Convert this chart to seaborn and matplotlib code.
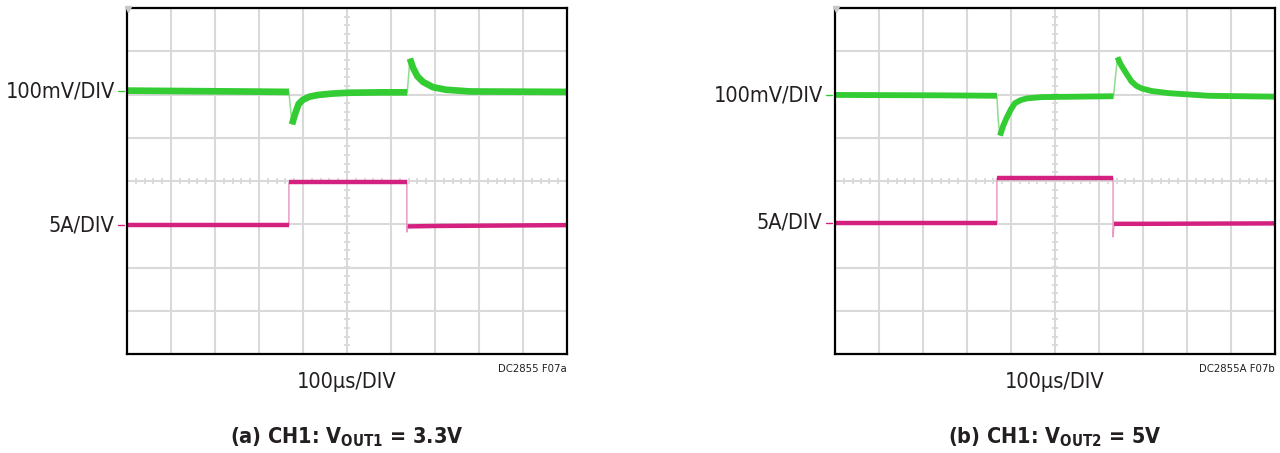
import numpy as np
import pandas as pd
import matplotlib
matplotlib.use("Agg")
import matplotlib.pyplot as plt
import matplotlib.transforms as mtransforms
from matplotlib import font_manager
import seaborn as sns

# ---- trace data (time and amplitude in scope divisions) ----
# panel (a): VOUT1 = 3.3V
vout_a_t = [-5.00, -2.50, -1.32, -1.25, -1.18, -1.10, -1.00, -0.85, -0.65, -0.35, 0.00, 0.80,
            1.37, 1.43, 1.50, 1.60, 1.73, 1.95, 2.25, 2.80, 5.00]
vout_a_v = [2.09, 2.07, 2.06, 1.31, 1.55, 1.78, 1.88, 1.95, 1.99, 2.02, 2.04, 2.05,
            2.05, 2.83, 2.62, 2.42, 2.29, 2.17, 2.11, 2.07, 2.06]
iout_a_t = [-5.00, -1.32, -1.32, 1.36, 1.36, 1.38, 2.00, 5.00]
iout_a_v = [-1.02, -1.02, -0.03, -0.03, -1.18, -1.05, -1.04, -1.02]

# panel (b): VOUT2 = 5V
vout_b_t = [-5.00, -2.50, -1.32, -1.29, -1.25, -1.18, -1.10, -1.00, -0.91, -0.78, -0.64, -0.30,
            0.50, 1.33, 1.42, 1.48, 1.55, 1.65, 1.74, 1.85, 1.97, 2.20, 2.60, 3.50, 5.00]
vout_b_v = [1.99, 1.98, 1.97, 1.40, 1.05, 1.27, 1.46, 1.66, 1.80, 1.87, 1.91, 1.94,
            1.95, 1.96, 2.86, 2.72, 2.60, 2.44, 2.30, 2.20, 2.14, 2.08, 2.03, 1.97, 1.95]
iout_b_t = [-5.00, -1.32, -1.32, 1.32, 1.32, 1.34, 2.00, 5.00]
iout_b_v = [-0.97, -0.97, 0.07, 0.07, -1.29, -0.99, -0.99, -0.98]

# ---- text ----
vert_labels = ["100mV/DIV", "5A/DIV"]
horiz_label = "100\u00b5s/DIV"
figure_ids = ["DC2855 F07a", "DC2855A F07b"]
captions = [r"(a) CH1: V$_{\mathbf{OUT1}}$ = 3.3V", r"(b) CH1: V$_{\mathbf{OUT2}}$ = 5V"]
vout_levels = [2.08, 1.98]      # channel reference markers
iout_levels = [-1.02, -0.97]

GREEN = "#33cc33"
GREEN_EDGE = "#8fdc8f"
MAGENTA = "#d4217f"
MAGENTA_EDGE = "#e89cc3"
GRID = "#d9d9d9"
TEXT = "#231f20"

sns.set_style("white")

# pick the narrowest sans face on the system for the scope-style lettering
stretch_rank = {"ultra-condensed": 0, "extra-condensed": 1, "condensed": 2,
                "semi-condensed": 3, "normal": 5}
face, face_stretch, best = "Roboto", "normal", 9
for f in font_manager.fontManager.ttflist:
    st = f.stretch if isinstance(f.stretch, str) else "normal"
    r = stretch_rank.get(st, 5)
    if "Narrow" in f.name or "Condensed" in f.name:
        r = min(r, 2)
    if r < best and f.weight in (400, "normal", "regular"):
        face, face_stretch, best = f.name, st, r

plt.rcParams["font.family"] = [face, "DejaVu Sans"]
plt.rcParams["font.stretch"] = face_stretch
plt.rcParams["mathtext.fontset"] = "custom"
plt.rcParams["mathtext.rm"] = f"{face}:stretch={face_stretch}"
plt.rcParams["mathtext.bf"] = f"{face}:weight=bold:stretch={face_stretch}"


def split_runs(t, v, max_slope=5.0):
    """Group consecutive slow segments; fast edges are left to the thin trace."""
    rows, run = [], 0
    open_run = False
    for i in range(len(t) - 1):
        dt = t[i + 1] - t[i]
        slope = np.inf if dt == 0 else abs(v[i + 1] - v[i]) / dt
        if slope < max_slope:
            if not open_run:
                run += 1
                rows.append((t[i], v[i], run))
                open_run = True
            rows.append((t[i + 1], v[i + 1], run))
        else:
            open_run = False
    return pd.DataFrame(rows, columns=["t", "v", "seg"])


def draw_trace(ax, t, v, color, edge_color, lw):
    sns.lineplot(x=t, y=v, sort=False, estimator=None, color=edge_color, lw=1.1,
                 ax=ax, legend=False)
    runs = split_runs(t, v)
    sns.lineplot(data=runs, x="t", y="v", units="seg", sort=False, estimator=None,
                 color=color, lw=lw, ax=ax, legend=False, solid_capstyle="butt")


def draw_graticule(ax):
    for x in range(-4, 5):
        ax.axvline(x, color=GRID, lw=1.5, zorder=0)
    for y in range(-3, 4):
        ax.axhline(y, color=GRID, lw=1.5, zorder=0)
    minor_x = np.arange(-5, 5.01, 0.2)
    minor_y = np.arange(-4, 4.01, 0.2)
    ax.vlines(minor_x, -0.07, 0.07, color=GRID, lw=1.3, zorder=0)
    ax.hlines(minor_y, -0.07, 0.07, color=GRID, lw=1.3, zorder=0)


fig = plt.figure(figsize=(12.8, 4.53), dpi=100)
renderer = fig.canvas.get_renderer()


def fitted_size(s, width_px, max_size, **kw):
    """Largest font size (up to max_size) at which a string spans width_px."""
    probe = fig.text(0, 0, s, fontsize=max_size, **kw)
    w = probe.get_window_extent(renderer).width
    probe.remove()
    return max_size if w <= width_px else max_size * width_px / w


label_size = min(18, 1.06 * fitted_size(vert_labels[0], 104, 18))
id_size = fitted_size(figure_ids[0], 69, 9.5)
caption_size = min(20, 1.04 * fitted_size(captions[0], 223, 20, fontweight="bold"))

panels = [
    (127, vout_a_t, vout_a_v, iout_a_t, iout_a_v),
    (835, vout_b_t, vout_b_v, iout_b_t, iout_b_v),
]
W, H = 1280, 453
for k, (x0, vt, vv, it, iv) in enumerate(panels):
    ax = fig.add_axes([x0 / W, 1 - 354 / H, 440 / W, 346 / H])
    ax.set_xlim(-5, 5)
    ax.set_ylim(-4, 4)
    draw_graticule(ax)
    draw_trace(ax, it, iv, MAGENTA, MAGENTA_EDGE, 3.2)
    draw_trace(ax, vt, vv, GREEN, GREEN_EDGE, 4.8 if k == 0 else 4.2)
    ax.set_xticks([])
    ax.set_yticks([])
    ax.set_xlabel("")
    ax.set_ylabel("")
    for s in ax.spines.values():
        s.set_visible(True)
        s.set_color("black")
        s.set_linewidth(1.6)
    ax.plot([-4.97], [3.97], marker="v", color="#c8c8c8", ms=4, clip_on=False, zorder=5)

    blend = mtransforms.blended_transform_factory(ax.transAxes, ax.transData)
    for label, level, mark in [(vert_labels[0], vout_levels[k], GREEN),
                               (vert_labels[1], iout_levels[k], MAGENTA)]:
        ax.text(-0.028, level, label, transform=blend, ha="right", va="center",
                fontsize=label_size, color=TEXT)
        ax.plot([-0.021, -0.007], [level, level], transform=blend, color=mark,
                lw=1.0, clip_on=False)

    ax.text(0.5, -0.082, horiz_label, transform=ax.transAxes, ha="center",
            va="center", fontsize=label_size, color=TEXT)
    ax.text(1.0, -0.043, figure_ids[k], transform=ax.transAxes, ha="right",
            va="center", fontsize=id_size, color=TEXT)
    fig.text((x0 + 220) / W, 1 - 437 / H, captions[k], ha="center", va="center",
             fontsize=caption_size, fontweight="bold", color=TEXT)

fig.savefig("out.png", dpi=100)
